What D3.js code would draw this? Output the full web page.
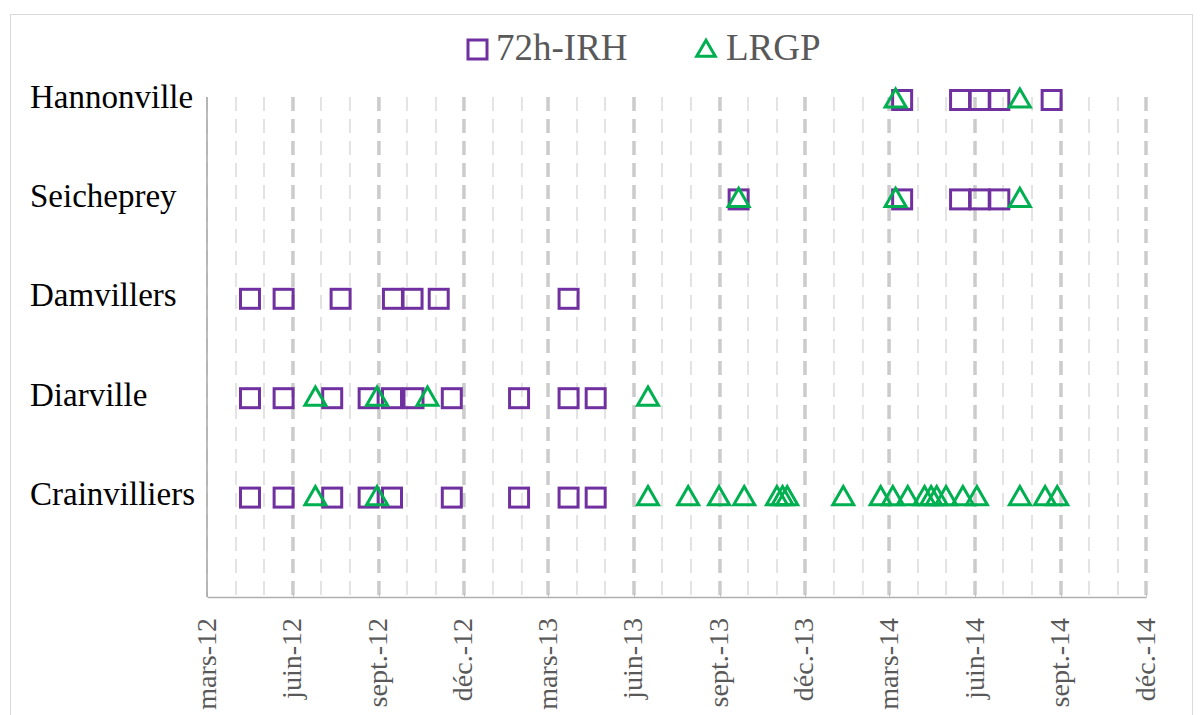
<!DOCTYPE html>
<html>
<head>
<meta charset="utf-8">
<script src="https://cdn.jsdelivr.net/npm/d3@7"></script>
<style>
  body { margin: 0; background: #fff; }
  svg { font-family: "Liberation Serif", "Times New Roman", serif; }
</style>
</head>
<body>
<svg id="chart" width="1203" height="715"></svg>
<script>
// sites, bottom to top
let sites = ["Crainvilliers", "Diarville", "Damvillers", "Seicheprey", "Hannonville"];

// sampling dates, 72h-IRH
let irh_points = [
    ["Hannonville", "2014-03-15"], ["Hannonville", "2014-05-16"], ["Hannonville", "2014-06-06"],
    ["Hannonville", "2014-06-27"], ["Hannonville", "2014-08-22"],
    ["Seicheprey", "2013-09-21"], ["Seicheprey", "2014-03-15"], ["Seicheprey", "2014-05-16"],
    ["Seicheprey", "2014-06-06"], ["Seicheprey", "2014-06-27"],
    ["Damvillers", "2012-04-16"], ["Damvillers", "2012-05-22"], ["Damvillers", "2012-07-22"],
    ["Damvillers", "2012-09-16"], ["Damvillers", "2012-10-07"], ["Damvillers", "2012-11-04"],
    ["Damvillers", "2013-03-23"],
    ["Diarville", "2012-04-16"], ["Diarville", "2012-05-22"], ["Diarville", "2012-07-13"],
    ["Diarville", "2012-08-21"], ["Diarville", "2012-09-15"], ["Diarville", "2012-10-08"],
    ["Diarville", "2012-11-18"], ["Diarville", "2013-01-29"], ["Diarville", "2013-03-23"],
    ["Diarville", "2013-04-21"],
    ["Crainvilliers", "2012-04-16"], ["Crainvilliers", "2012-05-22"], ["Crainvilliers", "2012-07-13"],
    ["Crainvilliers", "2012-08-21"], ["Crainvilliers", "2012-09-15"], ["Crainvilliers", "2012-11-18"],
    ["Crainvilliers", "2013-01-29"], ["Crainvilliers", "2013-03-23"], ["Crainvilliers", "2013-04-21"]
];

// sampling dates, LRGP
let lrgp_points = [
    ["Hannonville", "2014-03-08"], ["Hannonville", "2014-07-19"],
    ["Seicheprey", "2013-09-21"], ["Seicheprey", "2014-03-08"], ["Seicheprey", "2014-07-19"],
    ["Diarville", "2012-06-25"], ["Diarville", "2012-08-30"], ["Diarville", "2012-10-23"],
    ["Diarville", "2013-06-16"],
    ["Crainvilliers", "2012-06-25"], ["Crainvilliers", "2012-08-30"], ["Crainvilliers", "2013-06-16"],
    ["Crainvilliers", "2013-07-29"], ["Crainvilliers", "2013-08-31"], ["Crainvilliers", "2013-09-27"],
    ["Crainvilliers", "2013-11-01"], ["Crainvilliers", "2013-11-07"], ["Crainvilliers", "2013-11-12"],
    ["Crainvilliers", "2014-01-11"], ["Crainvilliers", "2014-02-20"], ["Crainvilliers", "2014-03-05"],
    ["Crainvilliers", "2014-03-21"], ["Crainvilliers", "2014-04-08"], ["Crainvilliers", "2014-04-15"],
    ["Crainvilliers", "2014-04-21"], ["Crainvilliers", "2014-05-01"], ["Crainvilliers", "2014-05-19"],
    ["Crainvilliers", "2014-06-03"], ["Crainvilliers", "2014-07-19"], ["Crainvilliers", "2014-08-15"],
    ["Crainvilliers", "2014-08-28"]
];

let tick_dates = ["2012-03-01", "2012-06-01", "2012-09-01", "2012-12-01", "2013-03-01", "2013-06-01",
    "2013-09-01", "2013-12-01", "2014-03-01", "2014-06-01", "2014-09-01", "2014-12-01"];
let tick_labels = ["mars-12", "juin-12", "sept.-12", "déc.-12", "mars-13", "juin-13",
    "sept.-13", "déc.-13", "mars-14", "juin-14", "sept.-14", "déc.-14"];

let series_names = ["72h-IRH", "LRGP"];
let purple = "#7030A0";
let green = "#00B050";

let parse = d3.timeParse("%Y-%m-%d");
let svg = d3.select("#chart");

// outer frame of the excel chart
svg.append("rect")
    .attr("x", 10.5).attr("y", 14.5)
    .attr("width", 1182).attr("height", 720)
    .attr("fill", "none")
    .attr("stroke", "#d9d9d9");

let x = d3.scaleTime()
    .domain([parse(tick_dates[0]), parse(tick_dates[tick_dates.length - 1])])
    .range([207, 1146]);
let y = d3.scaleLinear()
    .domain([0, 5])
    .range([597, 100]);

let plot_top = 97;

// minor monthly gridlines
svg.append("g").selectAll("line")
    .data(d3.timeMonth.range(x.domain()[0], x.domain()[1]))
    .enter().append("line")
        .attr("x1", d => x(d)).attr("x2", d => x(d))
        .attr("y1", plot_top).attr("y2", y(0))
        .attr("stroke", "#e3e3e3")
        .attr("stroke-width", 2)
        .attr("stroke-dasharray", "14 8");

// major gridlines, every 3 months
svg.append("g").selectAll("line")
    .data(tick_dates.slice(1).map(parse))
    .enter().append("line")
        .attr("x1", d => x(d)).attr("x2", d => x(d))
        .attr("y1", plot_top).attr("y2", y(0))
        .attr("stroke", "#cbcbcb")
        .attr("stroke-width", 3.5)
        .attr("stroke-dasharray", "14 8");

// bottom axis
let x_axis = svg.append("g")
    .attr("transform", `translate(0, ${y(0)})`)
    .call(d3.axisBottom(x)
        .tickValues(tick_dates.map(parse))
        .tickFormat((d, i) => tick_labels[i])
        .tickSize(-4)
        .tickSizeOuter(0));
x_axis.select(".domain").attr("stroke", "#b0b0b0").attr("stroke-width", 1.5);
x_axis.selectAll(".tick line").attr("stroke", "#c0c0c0");
x_axis.selectAll("text")
    .attr("transform", "rotate(-90)")
    .attr("x", -21)
    .attr("y", 8)
    .attr("dy", 0)
    .attr("text-anchor", "end")
    .attr("fill", "#595959")
    .attr("font-size", 28)
    .attr("font-family", "Liberation Serif");

// left axis with site names
let y_axis = svg.append("g")
    .attr("transform", "translate(207, 0)")
    .call(d3.axisLeft(y)
        .tickValues([1, 2, 3, 4, 5])
        .tickFormat(d => sites[d - 1])
        .tickSize(0)
        .tickSizeOuter(0));
y_axis.select(".domain").attr("stroke", "#a6a6a6").attr("stroke-width", 1.5)
    .attr("d", `M0,${plot_top}V${y(0)}`);
y_axis.selectAll("text")
    .attr("x", -177)
    .attr("dy", 7)
    .attr("text-anchor", "start")
    .attr("fill", "#000")
    .attr("font-size", 33)
    .attr("font-family", "Liberation Serif");

let site_y = name => y(sites.indexOf(name) + 1);

let sq = 19;
svg.append("g").selectAll("rect")
    .data(irh_points)
    .enter().append("rect")
        .attr("x", d => x(parse(d[1])) - sq / 2)
        .attr("y", d => site_y(d[0]) - sq / 2)
        .attr("width", sq).attr("height", sq)
        .attr("fill", "none")
        .attr("stroke", purple)
        .attr("stroke-width", 3);

let tri = d3.symbol().type(d3.symbolTriangle).size(190);
svg.append("g").selectAll("path")
    .data(lrgp_points)
    .enter().append("path")
        .attr("d", tri)
        .attr("transform", d => `translate(${x(parse(d[1]))}, ${site_y(d[0]) + 1})`)
        .attr("fill", "none")
        .attr("stroke", green)
        .attr("stroke-width", 3);

// legend
let legend = svg.append("g");
legend.append("rect")
    .attr("x", 468).attr("y", 40)
    .attr("width", 19).attr("height", 19)
    .attr("fill", "none").attr("stroke", purple).attr("stroke-width", 3);
legend.append("text")
    .attr("x", 496).attr("y", 60)
    .attr("fill", "#595959").attr("font-size", 37)
    .text(series_names[0]);
legend.append("path")
    .attr("d", d3.symbol().type(d3.symbolTriangle).size(150))
    .attr("transform", "translate(706, 51)")
    .attr("fill", "none").attr("stroke", green).attr("stroke-width", 3);
legend.append("text")
    .attr("x", 726).attr("y", 60)
    .attr("fill", "#595959").attr("font-size", 37)
    .text(series_names[1]);
</script>
</body>
</html>
